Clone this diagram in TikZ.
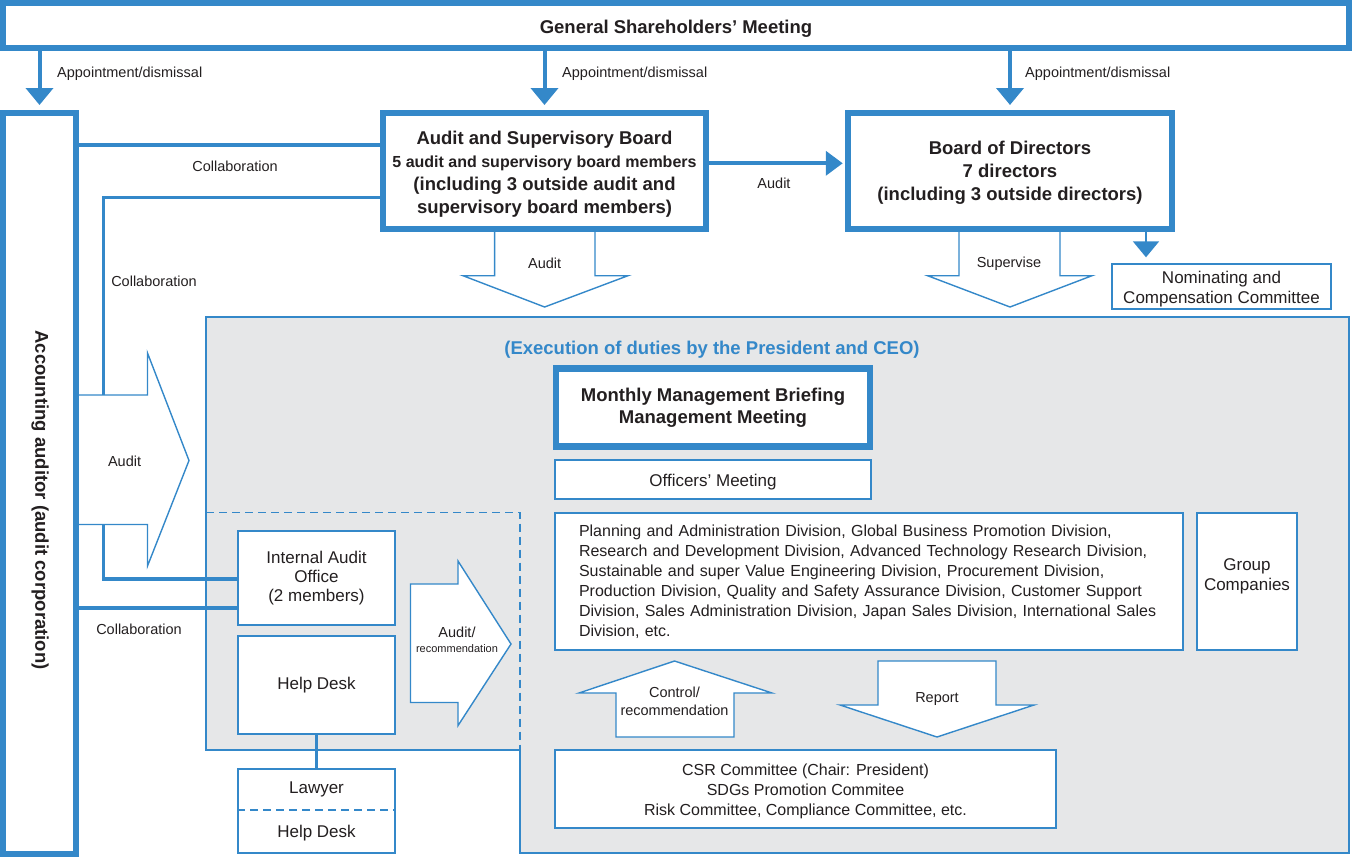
\documentclass[tikz,border=0pt]{standalone}
\usepackage{fontspec}
\setmainfont{Liberation Sans}
\usetikzlibrary{arrows.meta}
\definecolor{cblue}{RGB}{52,136,201}
\definecolor{cgray}{RGB}{230,231,232}
\definecolor{ctext}{RGB}{35,31,32}
\newcommand\myfs[2]{\fontsize{#1}{#2}\selectfont}
\begin{document}
\begin{tikzpicture}[x=1pt,y=-1pt,
  every node/.style={text=ctext, inner sep=0pt},
  thickbox/.style={draw=cblue, line width=6.5pt, fill=white, align=center},
  thinbox/.style={draw=cblue, line width=1.4pt, fill=white, align=center},
  conn/.style={draw=cblue, line width=3.5pt},
  apparrow/.style={draw=cblue, line width=4pt, -{Triangle[width=27pt,length=17pt]}},
  blockarrow/.style={draw=cblue, line width=1.4pt, fill=white, line join=miter},
  lbl/.style={font=\myfs{14.5}{17}},
  body/.style={font=\myfs{17}{20}},
  ttl/.style={font=\bfseries\myfs{18.5}{23}},
  dsh/.style={draw=cblue, line width=1.2pt, dash pattern=on 8pt off 5pt}]
\useasboundingbox (0,0) rectangle (1352,857);

% execution region background
\path[fill=cgray, draw=cblue, line width=1.3pt]
  (206,317) -- (1349,317) -- (1349,853) -- (520,853) -- (520,750) -- (206,750) -- cycle;
\path[fill=cgray] (208,514) rectangle (519,749);
\draw[dsh] (206,512.5) -- (520,512.5) -- (520,750);

% top boxes
\node[thickbox, minimum width=1346pt, minimum height=45pt] (gsm) at (676,25.5) {};
\node[ttl] (gsmtext) at (676,28.5) {General Shareholders’ Meeting};
\node[thickbox, minimum width=73pt, minimum height=741pt] (acc) at (39.5,483.5) {};
\node[ttl, rotate=-90] (acctext) at (40,500) {Accounting auditor (audit corporation)};
\node[thickbox, minimum width=323pt, minimum height=116pt] (asb) at (544.5,171) {};
\node[ttl, align=center] (asbtext) at (544.5,174)
  {Audit and Supervisory Board\\{\myfs{16}{23}5 audit and supervisory board members}\\(including 3 outside audit and\\supervisory board members)};
\node[thickbox, minimum width=324pt, minimum height=116pt] (bod) at (1010,171) {};
\node[ttl, align=center] (bodtext) at (1010,173)
  {Board of Directors\\7 directors\\(including 3 outside directors)};
\node[thinbox, minimum width=219pt, minimum height=45pt] (nom) at (1221.5,286.5) {};
\node[body, align=center] (nomtext) at (1221.5,289)
  {Nominating and\\Compensation Committee};

% appointment arrows
\draw[apparrow, shorten >=4.75pt] (gsm.south -| acc.north) -- (acc.north);
\draw[apparrow, shorten >=4.75pt] (gsm.south -| asb.north) -- (asb.north);
\draw[apparrow, shorten >=4.75pt] (gsm.south -| bod.north) -- (bod.north);
\node[lbl, anchor=west] (ap1) at (57,74) {Appointment/dismissal};
\node[lbl, anchor=west] (ap2) at (562,74) {Appointment/dismissal};
\node[lbl, anchor=west] (ap3) at (1025,74) {Appointment/dismissal};

% audit arrow asb -> bod
\draw[conn, line width=4pt, -{Triangle[width=24pt,length=17pt]}] (asb.east |- 0,163.3) -- ([xshift=-2pt]bod.west |- 0,163.3);
\node[lbl] (aud1) at (774,183.5) {Audit};

% nominating arrow
\draw[conn, line width=2pt, -{Triangle[width=26pt,length=16pt]}] (bod.south -| 1146,0) -- (nom.north -| 1146,0) [shorten >=6pt];

% inner boxes
\node[thickbox, minimum width=314pt, minimum height=78pt, font=\bfseries\myfs{18.5}{22}] (mmb) at (713,407.5)
  {Monthly Management Briefing\\Management Meeting};
\node[thinbox, minimum width=316pt, minimum height=39pt] (off) at (713,479.5) {};
\node[body] (offtext) at (713,482.5) {Officers’ Meeting};
\node[thinbox, minimum width=628pt, minimum height=137pt, font=\myfs{16}{20}, text width=580pt, align=left] (div) at (869,581.5)
  {Planning and Administration Division, Global Business Promotion Division,\\
   Research and Development Division, Advanced Technology Research Division,\\
   Sustainable and super Value Engineering Division, Procurement Division,\\
   Production Division, Quality and Safety Assurance Division, Customer Support\\
   Division, Sales Administration Division, Japan Sales Division, International Sales\\
   Division, etc.};
\node[thinbox, minimum width=100pt, minimum height=137pt] (grp) at (1247,581.5) {};
\node[body, align=center] (grptext) at (1247,576.5) {Group\\Companies};
\node[thinbox, minimum width=501pt, minimum height=78pt] (csr) at (805.5,789) {};
\node[font=\myfs{16}{19.7}, align=center] (csrtext) at (805.5,791.5)
  {CSR Committee (Chair: President)\\SDGs Promotion Commitee\\Risk Committee, Compliance Committee, etc.};
\node[font=\bfseries\myfs{18.5}{22}, text=cblue] (exec) at (712,350) {(Execution of duties by the President and CEO)};

% left lower boxes
\node[thinbox, minimum width=157pt, minimum height=94pt, font=\myfs{17}{19}] (iao) at (316.5,578)
  {Internal Audit\\Office\\(2 members)};
\node[thinbox, minimum width=157pt, minimum height=98pt, body] (hd) at (316.5,685) {Help Desk};
\node[thinbox, minimum width=157pt, minimum height=84pt] (law) at (316.5,811) {};
\draw[dsh] (law.west |- 0,810) -- (law.east |- 0,810);
\node[body] (lawtext) at (316.5,789) {Lawyer};
\node[body] (hd2text) at (316.5,833) {Help Desk};
\draw[conn] (hd.south) -- (law.north);

% collaboration lines
\draw[conn] (acc.east |- 0,145) -- (asb.west |- 0,145);
\node[lbl] (col1) at (235,166.5) {Collaboration};
\draw[conn] (asb.west |- 0,197.6) -| (103.6,579) -- (iao.west |- 0,579);
\node[lbl] (col2) at (154,281) {Collaboration};
\draw[conn] (acc.east |- 0,608) -- (iao.west |- 0,608);
\node[lbl] (col3) at (139,629) {Collaboration};

% block arrows
\path[blockarrow] (79,395) -- (147.5,395) -- (147.5,353) -- (189,460.5) -- (147.5,566) -- (147.5,524.5) -- (79,524.5);
\node[lbl] (aud2) at (124.6,461.5) {Audit};

\path[blockarrow] (494.6,232) -- (494.6,275.7) -- (463,275.7) -- (544.6,307) -- (628,275.7) -- (595,275.7) -- (595,232);
\node[lbl] (aud3) at (544.6,263.5) {Audit};

\path[blockarrow] (959,232) -- (959,275.7) -- (927.6,275.7) -- (1010,307) -- (1092,275.7) -- (1060,275.7) -- (1060,232);
\node[lbl] (sup) at (1009,263.5) {Supervise};

\path[blockarrow] (410.5,584) -- (458,584) -- (458,561) -- (511,644) -- (458,725.6) -- (458,702.5) -- (410.5,702.5) -- cycle;
\node[lbl] (audrec1) at (457,632) {Audit/};
\node[font=\myfs{11}{13}] (audrec2) at (457,649) {recommendation};

\path[blockarrow] (616,737) -- (616,693) -- (579,693) -- (674.5,661) -- (772,693) -- (734,693) -- (734,737) -- cycle;
\node[lbl] (ctl1) at (674.5,692.5) {Control/};
\node[lbl] (ctl2) at (674.5,710.5) {recommendation};

\path[blockarrow] (878,661) -- (996,661) -- (996,705) -- (1034,705) -- (937,737) -- (840,705) -- (878,705) -- cycle;
\node[lbl] (rep) at (937,699.5) {Report};
\end{tikzpicture}
\end{document}
